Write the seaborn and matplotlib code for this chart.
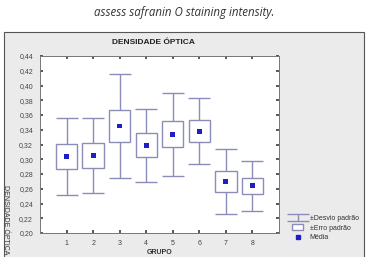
import numpy as np
import pandas as pd
import seaborn as sns
import matplotlib.pyplot as plt
from matplotlib.patches import Rectangle, Patch
from matplotlib.lines import Line2D
from matplotlib.ticker import FuncFormatter

grupos = [1, 2, 3, 4, 5, 6, 7, 8]
medias = [0.304, 0.305, 0.345, 0.319, 0.334, 0.338, 0.270, 0.264]
erro_padrao = [0.017, 0.0165, 0.022, 0.016, 0.0175, 0.015, 0.014, 0.011]
desvio_padrao = [0.0525, 0.0505, 0.071, 0.0495, 0.0565, 0.045, 0.044, 0.0335]

sns.set_theme(style="white")
plt.rcParams['font.family'] = ['Liberation Sans', 'DejaVu Sans']

df = pd.DataFrame({"grupo": grupos, "media": medias,
                   "ep": erro_padrao, "dp": desvio_padrao})

fig = plt.figure(figsize=(3.68, 2.57), dpi=100)
fig.patch.set_facecolor("white")

# grey panel behind the chart
fig.add_artist(Rectangle((4 / 368, -0.02), 360 / 368, 0.02 + 1 - 32 / 257,
                         transform=fig.transFigure, facecolor="#ebebeb",
                         edgecolor="#555555", linewidth=0.8, zorder=0))

ax = fig.add_axes([40 / 368, 1 - 233 / 257, 239 / 368, 177 / 257])
ax.set_facecolor("white")

box_col = "#8c8cb8"

# whiskers (standard deviation)
ax.errorbar(df["grupo"], df["media"], yerr=df["dp"], fmt="none",
            ecolor=box_col, elinewidth=1.0, capsize=8, capthick=1.0,
            zorder=1)
# boxes (standard error)
ax.bar(df["grupo"], 2 * df["ep"], bottom=df["media"] - df["ep"], width=0.8,
       color="white", edgecolor=box_col, linewidth=1.0, zorder=2)
# means
sns.scatterplot(data=df, x="grupo", y="media", marker="s", s=12,
                color="#1f1fc8", edgecolor="none", ax=ax, zorder=3,
                legend=False)

ax.set_xlim(0, 9)
ax.set_ylim(0.20, 0.44)
ax.set_xticks(grupos)
ax.set_yticks(np.arange(0.20, 0.441, 0.02))
ax.yaxis.set_major_formatter(FuncFormatter(lambda v, p: f"{v:.2f}".replace(".", ",")))
ax.tick_params(axis="both", direction="in", length=2, labelsize=5,
               colors="#444444", top=True, right=True, left=True, bottom=True)
ax.tick_params(axis="x", pad=5)
ax.tick_params(axis="y", pad=5)
ax.set_xlabel("")
ax.set_ylabel("")
for s in ax.spines.values():
    s.set_color("#777777")
    s.set_linewidth(0.7)

fig.text(0.5, 1 - 12 / 257, "assess safranin O staining intensity.",
         ha="center", va="center", fontsize=8.3, style="italic",
         family=["Open Sans", "DejaVu Sans"], color="#333333")
fig.text(153 / 368, 1 - 43 / 257, "DENSIDADE ÓPTICA", ha="center",
         va="center", fontsize=6, fontweight="bold", color="#222222")
fig.text(160 / 368, 1 - 253 / 257, "GRUPO", ha="center", va="center",
         fontsize=5, fontweight="bold", color="#333333")
fig.text(5 / 368, 1 - 185 / 257, "DENSIDADE ÓPTICA", rotation=270,
         ha="center", va="top", fontsize=5, color="#333333")

handles = [
    ax.containers[0],
    Patch(facecolor="white", edgecolor=box_col, linewidth=1.0),
    Line2D([], [], marker="s", color="#1f1fc8", linestyle="none", markersize=2.5),
]
labels = ["±Desvio padrão", "±Erro padrão", "Média"]
fig.legend(handles, labels, loc="center left",
           bbox_to_anchor=(289 / 368, 1 - 228 / 257), frameon=False,
           fontsize=5, handlelength=1.5, handleheight=0.9,
           labelspacing=0.35, handletextpad=1.0, borderpad=0,
           labelcolor="#333333")

fig.savefig("out.png", dpi=100)
